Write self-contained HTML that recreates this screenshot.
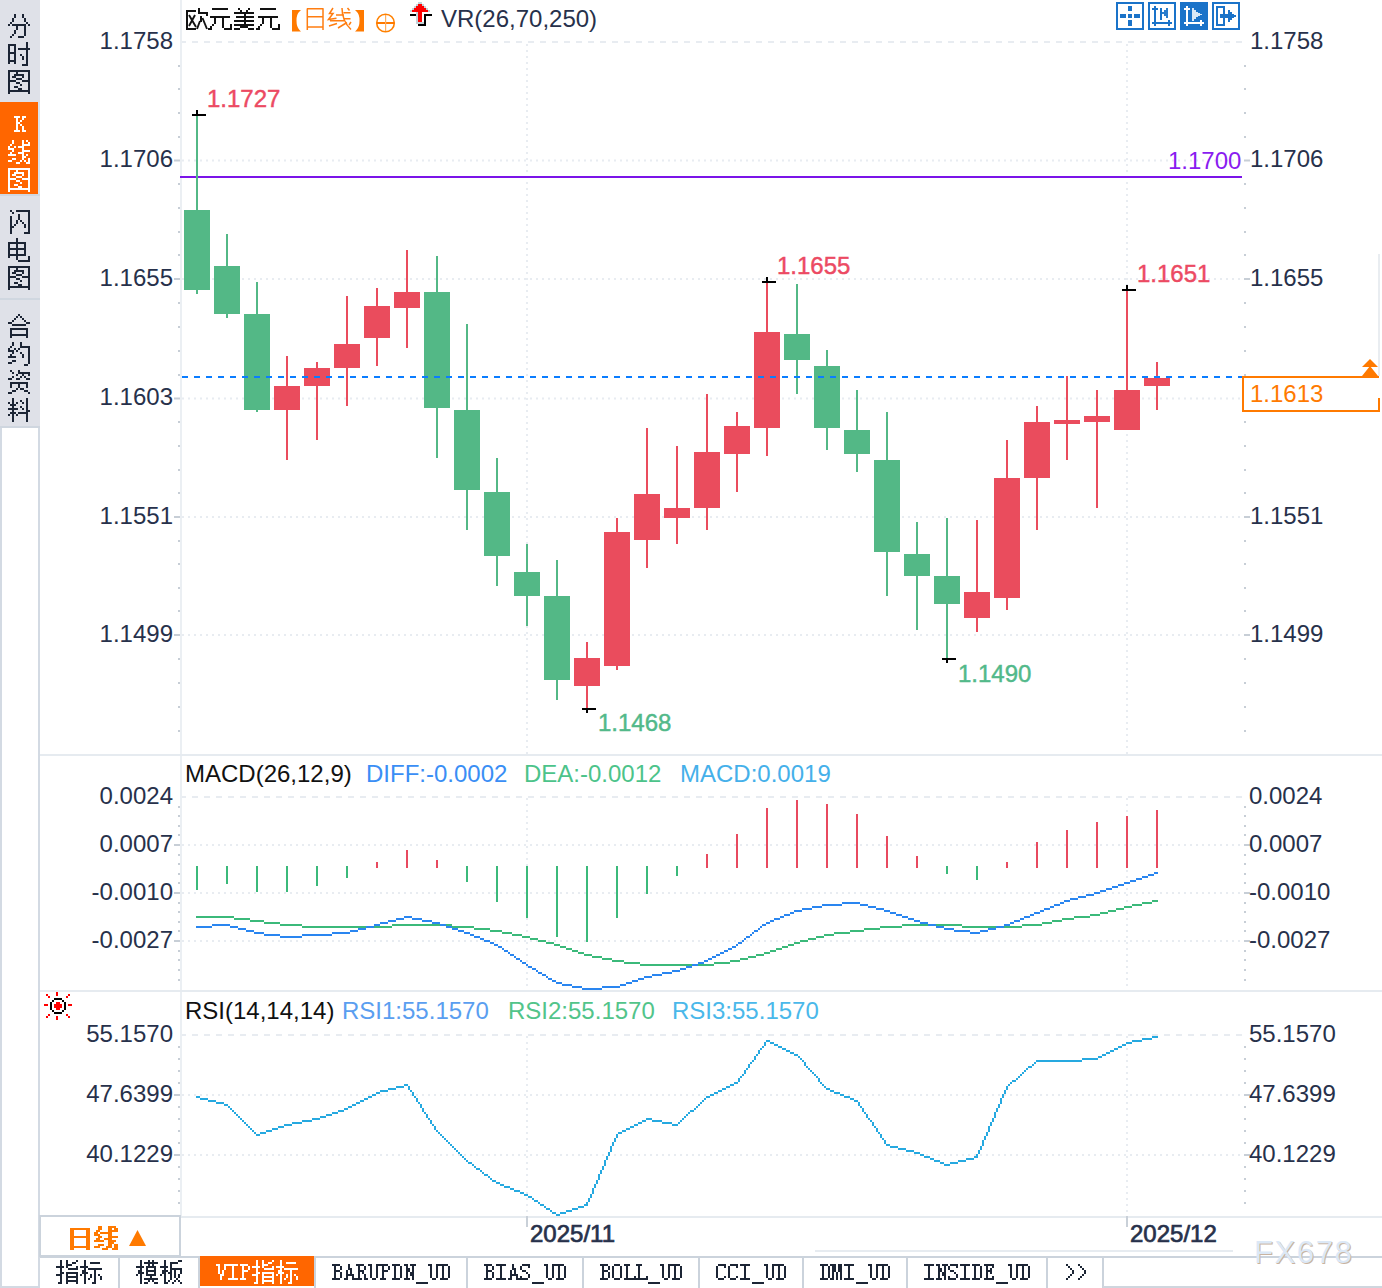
<!DOCTYPE html><html><head><meta charset="utf-8"><style>
html,body{margin:0;padding:0;background:#fff;width:1382px;height:1288px;overflow:hidden}
svg{display:block}
text{font-family:"Liberation Sans",sans-serif}
</style></head><body>
<svg width="1382" height="1288" viewBox="0 0 1382 1288">
<rect x="0" y="0" width="1382" height="1288" fill="#fff"/>
<rect x="0" y="0" width="40" height="428" fill="#dfe1e8"/>
<rect x="0" y="102" width="38" height="92" fill="#ff6600"/>
<rect x="38" y="428" width="2" height="860" fill="#d3dae3"/>
<rect x="38" y="102" width="2" height="92" fill="#d8e3ee"/>
<rect x="0" y="426" width="40" height="2" fill="#cfd6df"/>
<rect x="0" y="428" width="2" height="860" fill="#d3dae3"/>
<rect x="0" y="194" width="40" height="2" fill="#d0d7e0"/>
<rect x="0" y="298" width="40" height="2" fill="#d0d7e0"/>
<path d="M14 14h2v2h-2zM22 14h2v2h-2zM14 16h2v2h-2zM22 16h2v2h-2zM12 18h2v2h-2zM24 18h2v2h-2zM12 20h2v2h-2zM24 20h2v2h-2zM10 22h2v2h-2zM26 22h2v2h-2zM8 24h2v2h-2zM12 24h14v2h-14zM28 24h2v2h-2zM16 26h2v2h-2zM24 26h2v2h-2zM16 28h2v2h-2zM24 28h2v2h-2zM14 30h2v2h-2zM24 30h2v2h-2zM14 32h2v2h-2zM24 32h2v2h-2zM12 34h2v2h-2zM24 34h2v2h-2zM10 36h2v2h-2zM18 36h6v2h-6z" fill="#1c2535" shape-rendering="crispEdges"/>
<path d="M26 42h2v2h-2zM8 44h8v2h-8zM26 44h2v2h-2zM8 46h2v2h-2zM14 46h2v2h-2zM26 46h2v2h-2zM8 48h2v2h-2zM14 48h2v2h-2zM18 48h12v2h-12zM8 50h2v2h-2zM14 50h2v2h-2zM26 50h2v2h-2zM8 52h8v2h-8zM26 52h2v2h-2zM8 54h2v2h-2zM14 54h2v2h-2zM20 54h2v2h-2zM26 54h2v2h-2zM8 56h2v2h-2zM14 56h2v2h-2zM22 56h2v2h-2zM26 56h2v2h-2zM8 58h2v2h-2zM14 58h2v2h-2zM22 58h2v2h-2zM26 58h2v2h-2zM8 60h8v2h-8zM26 60h2v2h-2zM8 62h2v2h-2zM14 62h2v2h-2zM26 62h2v2h-2zM22 64h6v2h-6z" fill="#1c2535" shape-rendering="crispEdges"/>
<path d="M8 70h22v2h-22zM8 72h2v2h-2zM16 72h2v2h-2zM28 72h2v2h-2zM8 74h2v2h-2zM14 74h10v2h-10zM28 74h2v2h-2zM8 76h2v2h-2zM12 76h4v2h-4zM22 76h2v2h-2zM28 76h2v2h-2zM8 78h2v2h-2zM16 78h6v2h-6zM28 78h2v2h-2zM8 80h8v2h-8zM22 80h8v2h-8zM8 82h2v2h-2zM16 82h4v2h-4zM28 82h2v2h-2zM8 84h2v2h-2zM20 84h2v2h-2zM28 84h2v2h-2zM8 86h2v2h-2zM14 86h4v2h-4zM28 86h2v2h-2zM8 88h2v2h-2zM18 88h4v2h-4zM28 88h2v2h-2zM8 90h22v2h-22zM8 92h2v2h-2zM28 92h2v2h-2z" fill="#1c2535" shape-rendering="crispEdges"/>
<path d="M10 210h2v2h-2zM16 210h14v2h-14zM12 212h2v2h-2zM28 212h2v2h-2zM18 214h2v2h-2zM28 214h2v2h-2zM10 216h2v2h-2zM18 216h2v2h-2zM28 216h2v2h-2zM10 218h2v2h-2zM18 218h2v2h-2zM28 218h2v2h-2zM10 220h2v2h-2zM16 220h2v2h-2zM20 220h2v2h-2zM28 220h2v2h-2zM10 222h2v2h-2zM16 222h2v2h-2zM22 222h2v2h-2zM28 222h2v2h-2zM10 224h2v2h-2zM14 224h2v2h-2zM24 224h2v2h-2zM28 224h2v2h-2zM10 226h4v2h-4zM24 226h2v2h-2zM28 226h2v2h-2zM10 228h2v2h-2zM28 228h2v2h-2zM10 230h2v2h-2zM28 230h2v2h-2zM10 232h2v2h-2zM24 232h6v2h-6z" fill="#1c2535" shape-rendering="crispEdges"/>
<path d="M16 238h2v2h-2zM16 240h2v2h-2zM8 242h18v2h-18zM8 244h2v2h-2zM16 244h2v2h-2zM24 244h2v2h-2zM8 246h2v2h-2zM16 246h2v2h-2zM24 246h2v2h-2zM8 248h18v2h-18zM8 250h2v2h-2zM16 250h2v2h-2zM24 250h2v2h-2zM8 252h2v2h-2zM16 252h2v2h-2zM24 252h2v2h-2zM8 254h18v2h-18zM8 256h2v2h-2zM16 256h2v2h-2zM28 256h2v2h-2zM16 258h2v2h-2zM28 258h2v2h-2zM18 260h12v2h-12z" fill="#1c2535" shape-rendering="crispEdges"/>
<path d="M8 266h22v2h-22zM8 268h2v2h-2zM16 268h2v2h-2zM28 268h2v2h-2zM8 270h2v2h-2zM14 270h10v2h-10zM28 270h2v2h-2zM8 272h2v2h-2zM12 272h4v2h-4zM22 272h2v2h-2zM28 272h2v2h-2zM8 274h2v2h-2zM16 274h6v2h-6zM28 274h2v2h-2zM8 276h8v2h-8zM22 276h8v2h-8zM8 278h2v2h-2zM16 278h4v2h-4zM28 278h2v2h-2zM8 280h2v2h-2zM20 280h2v2h-2zM28 280h2v2h-2zM8 282h2v2h-2zM14 282h4v2h-4zM28 282h2v2h-2zM8 284h2v2h-2zM18 284h4v2h-4zM28 284h2v2h-2zM8 286h22v2h-22zM8 288h2v2h-2zM28 288h2v2h-2z" fill="#1c2535" shape-rendering="crispEdges"/>
<path d="M18 314h2v2h-2zM16 316h2v2h-2zM20 316h2v2h-2zM14 318h2v2h-2zM22 318h2v2h-2zM12 320h2v2h-2zM24 320h2v2h-2zM8 322h4v2h-4zM26 322h4v2h-4zM12 324h14v2h-14zM10 328h18v2h-18zM10 330h2v2h-2zM26 330h2v2h-2zM10 332h2v2h-2zM26 332h2v2h-2zM10 334h18v2h-18zM10 336h2v2h-2zM26 336h2v2h-2z" fill="#1c2535" shape-rendering="crispEdges"/>
<path d="M12 342h2v2h-2zM20 342h2v2h-2zM12 344h2v2h-2zM20 344h2v2h-2zM10 346h2v2h-2zM20 346h10v2h-10zM8 348h2v2h-2zM14 348h2v2h-2zM18 348h2v2h-2zM28 348h2v2h-2zM8 350h6v2h-6zM16 350h2v2h-2zM28 350h2v2h-2zM12 352h2v2h-2zM20 352h2v2h-2zM28 352h2v2h-2zM10 354h2v2h-2zM22 354h2v2h-2zM28 354h2v2h-2zM8 356h8v2h-8zM22 356h2v2h-2zM28 356h2v2h-2zM28 358h2v2h-2zM12 360h4v2h-4zM28 360h2v2h-2zM8 362h4v2h-4zM28 362h2v2h-2zM24 364h4v2h-4z" fill="#1c2535" shape-rendering="crispEdges"/>
<path d="M10 370h2v2h-2zM18 370h2v2h-2zM12 372h2v2h-2zM18 372h12v2h-12zM16 374h2v2h-2zM22 374h2v2h-2zM28 374h2v2h-2zM12 376h2v2h-2zM20 376h2v2h-2zM24 376h2v2h-2zM8 378h4v2h-4zM16 378h4v2h-4zM26 378h4v2h-4zM10 382h18v2h-18zM10 384h2v2h-2zM18 384h2v2h-2zM26 384h2v2h-2zM10 386h2v2h-2zM18 386h2v2h-2zM26 386h2v2h-2zM16 388h2v2h-2zM20 388h4v2h-4zM12 390h4v2h-4zM24 390h4v2h-4zM8 392h4v2h-4zM28 392h2v2h-2z" fill="#1c2535" shape-rendering="crispEdges"/>
<path d="M12 398h2v2h-2zM26 398h2v2h-2zM12 400h2v2h-2zM20 400h2v2h-2zM26 400h2v2h-2zM8 402h2v2h-2zM12 402h2v2h-2zM16 402h2v2h-2zM22 402h2v2h-2zM26 402h2v2h-2zM10 404h6v2h-6zM26 404h2v2h-2zM12 406h2v2h-2zM20 406h2v2h-2zM26 406h2v2h-2zM8 408h10v2h-10zM22 408h2v2h-2zM26 408h2v2h-2zM12 410h2v2h-2zM26 410h4v2h-4zM10 412h6v2h-6zM18 412h10v2h-10zM8 414h2v2h-2zM12 414h2v2h-2zM16 414h2v2h-2zM26 414h2v2h-2zM12 416h2v2h-2zM26 416h2v2h-2zM12 418h2v2h-2zM26 418h2v2h-2zM12 420h2v2h-2zM26 420h2v2h-2z" fill="#1c2535" shape-rendering="crispEdges"/>
<path d="M14 116h6v2h-6zM22 116h4v2h-4zM16 118h2v2h-2zM22 118h2v2h-2zM16 120h2v2h-2zM20 120h2v2h-2zM16 122h4v2h-4zM16 124h2v2h-2zM20 124h2v2h-2zM16 126h2v2h-2zM22 126h2v2h-2zM16 128h2v2h-2zM22 128h2v2h-2zM14 130h6v2h-6zM22 130h4v2h-4z" fill="#fff" shape-rendering="crispEdges"/>
<path d="M12 140h2v2h-2zM22 140h2v2h-2zM26 140h2v2h-2zM12 142h2v2h-2zM22 142h2v2h-2zM28 142h2v2h-2zM10 144h2v2h-2zM22 144h8v2h-8zM8 146h2v2h-2zM14 146h2v2h-2zM18 146h6v2h-6zM8 148h6v2h-6zM22 148h2v2h-2zM12 150h2v2h-2zM22 150h8v2h-8zM10 152h2v2h-2zM18 152h6v2h-6zM8 154h8v2h-8zM22 154h2v2h-2zM26 154h2v2h-2zM22 156h4v2h-4zM12 158h4v2h-4zM22 158h2v2h-2zM28 158h2v2h-2zM8 160h4v2h-4zM20 160h2v2h-2zM24 160h2v2h-2zM28 160h2v2h-2zM16 162h4v2h-4zM26 162h4v2h-4z" fill="#fff" shape-rendering="crispEdges"/>
<path d="M8 168h22v2h-22zM8 170h2v2h-2zM16 170h2v2h-2zM28 170h2v2h-2zM8 172h2v2h-2zM14 172h10v2h-10zM28 172h2v2h-2zM8 174h2v2h-2zM12 174h4v2h-4zM22 174h2v2h-2zM28 174h2v2h-2zM8 176h2v2h-2zM16 176h6v2h-6zM28 176h2v2h-2zM8 178h8v2h-8zM22 178h8v2h-8zM8 180h2v2h-2zM16 180h4v2h-4zM28 180h2v2h-2zM8 182h2v2h-2zM20 182h2v2h-2zM28 182h2v2h-2zM8 184h2v2h-2zM14 184h4v2h-4zM28 184h2v2h-2zM8 186h2v2h-2zM18 186h4v2h-4zM28 186h2v2h-2zM8 188h22v2h-22zM8 190h2v2h-2zM28 190h2v2h-2z" fill="#fff" shape-rendering="crispEdges"/>
<rect x="180" y="0" width="2" height="1216" fill="#ebeff3"/>
<rect x="40" y="754" width="1342" height="2" fill="#e6ebf0"/>
<rect x="40" y="990" width="1342" height="2" fill="#e6ebf0"/>
<rect x="40" y="1216" width="1342" height="2" fill="#e6ebf0"/>
<line x1="182" y1="42" x2="1242" y2="42" stroke="#e8ecf1" stroke-width="2" stroke-dasharray="6 6" stroke-dashoffset="2"/>
<line x1="182" y1="160.5" x2="1242" y2="160.5" stroke="#e8ecf1" stroke-width="2" stroke-dasharray="2 4"/>
<line x1="182" y1="279" x2="1242" y2="279" stroke="#e8ecf1" stroke-width="2" stroke-dasharray="2 4"/>
<line x1="182" y1="398.5" x2="1242" y2="398.5" stroke="#e8ecf1" stroke-width="2" stroke-dasharray="2 4"/>
<line x1="182" y1="517" x2="1242" y2="517" stroke="#e8ecf1" stroke-width="2" stroke-dasharray="2 4"/>
<line x1="182" y1="635" x2="1242" y2="635" stroke="#e8ecf1" stroke-width="2" stroke-dasharray="2 4"/>
<line x1="182" y1="797" x2="1242" y2="797" stroke="#e8ecf1" stroke-width="2" stroke-dasharray="6 6" stroke-dashoffset="2"/>
<line x1="182" y1="845" x2="1242" y2="845" stroke="#e8ecf1" stroke-width="2" stroke-dasharray="2 4"/>
<line x1="182" y1="893" x2="1242" y2="893" stroke="#e8ecf1" stroke-width="2" stroke-dasharray="2 4"/>
<line x1="182" y1="941" x2="1242" y2="941" stroke="#e8ecf1" stroke-width="2" stroke-dasharray="2 4"/>
<line x1="182" y1="1035" x2="1242" y2="1035" stroke="#e8ecf1" stroke-width="2" stroke-dasharray="6 6" stroke-dashoffset="2"/>
<line x1="182" y1="1095" x2="1242" y2="1095" stroke="#e8ecf1" stroke-width="2" stroke-dasharray="2 4"/>
<line x1="182" y1="1155" x2="1242" y2="1155" stroke="#e8ecf1" stroke-width="2" stroke-dasharray="2 4"/>
<line x1="527" y1="44" x2="527" y2="754" stroke="#e8ecf1" stroke-width="2" stroke-dasharray="2 4"/>
<line x1="527" y1="798" x2="527" y2="990" stroke="#e8ecf1" stroke-width="2" stroke-dasharray="2 4"/>
<line x1="527" y1="1036" x2="527" y2="1216" stroke="#e8ecf1" stroke-width="2" stroke-dasharray="2 4"/>
<rect x="526" y="1216" width="2" height="11" fill="#c9d0d8"/>
<line x1="1127" y1="44" x2="1127" y2="754" stroke="#e8ecf1" stroke-width="2" stroke-dasharray="2 4"/>
<line x1="1127" y1="798" x2="1127" y2="990" stroke="#e8ecf1" stroke-width="2" stroke-dasharray="2 4"/>
<line x1="1127" y1="1036" x2="1127" y2="1216" stroke="#e8ecf1" stroke-width="2" stroke-dasharray="2 4"/>
<rect x="1126" y="1216" width="2" height="11" fill="#c9d0d8"/>
<rect x="174" y="159.5" width="6" height="2" fill="#c7ced6"/>
<rect x="1244" y="159.5" width="6" height="2" fill="#c7ced6"/>
<rect x="174" y="278" width="6" height="2" fill="#c7ced6"/>
<rect x="1244" y="278" width="6" height="2" fill="#c7ced6"/>
<rect x="174" y="397.5" width="6" height="2" fill="#c7ced6"/>
<rect x="1244" y="397.5" width="6" height="2" fill="#c7ced6"/>
<rect x="174" y="516" width="6" height="2" fill="#c7ced6"/>
<rect x="1244" y="516" width="6" height="2" fill="#c7ced6"/>
<rect x="174" y="634" width="6" height="2" fill="#c7ced6"/>
<rect x="1244" y="634" width="6" height="2" fill="#c7ced6"/>
<rect x="178" y="65" width="2" height="2" fill="#c7ced6"/>
<rect x="1244" y="65" width="2" height="2" fill="#c7ced6"/>
<rect x="178" y="88" width="2" height="2" fill="#c7ced6"/>
<rect x="1244" y="88" width="2" height="2" fill="#c7ced6"/>
<rect x="178" y="112" width="2" height="2" fill="#c7ced6"/>
<rect x="1244" y="112" width="2" height="2" fill="#c7ced6"/>
<rect x="178" y="136" width="2" height="2" fill="#c7ced6"/>
<rect x="1244" y="136" width="2" height="2" fill="#c7ced6"/>
<rect x="178" y="183" width="2" height="2" fill="#c7ced6"/>
<rect x="1244" y="183" width="2" height="2" fill="#c7ced6"/>
<rect x="178" y="207" width="2" height="2" fill="#c7ced6"/>
<rect x="1244" y="207" width="2" height="2" fill="#c7ced6"/>
<rect x="178" y="231" width="2" height="2" fill="#c7ced6"/>
<rect x="1244" y="231" width="2" height="2" fill="#c7ced6"/>
<rect x="178" y="254" width="2" height="2" fill="#c7ced6"/>
<rect x="1244" y="254" width="2" height="2" fill="#c7ced6"/>
<rect x="178" y="302" width="2" height="2" fill="#c7ced6"/>
<rect x="1244" y="302" width="2" height="2" fill="#c7ced6"/>
<rect x="178" y="326" width="2" height="2" fill="#c7ced6"/>
<rect x="1244" y="326" width="2" height="2" fill="#c7ced6"/>
<rect x="178" y="350" width="2" height="2" fill="#c7ced6"/>
<rect x="1244" y="350" width="2" height="2" fill="#c7ced6"/>
<rect x="178" y="374" width="2" height="2" fill="#c7ced6"/>
<rect x="1244" y="374" width="2" height="2" fill="#c7ced6"/>
<rect x="178" y="421" width="2" height="2" fill="#c7ced6"/>
<rect x="1244" y="421" width="2" height="2" fill="#c7ced6"/>
<rect x="178" y="445" width="2" height="2" fill="#c7ced6"/>
<rect x="1244" y="445" width="2" height="2" fill="#c7ced6"/>
<rect x="178" y="469" width="2" height="2" fill="#c7ced6"/>
<rect x="1244" y="469" width="2" height="2" fill="#c7ced6"/>
<rect x="178" y="492" width="2" height="2" fill="#c7ced6"/>
<rect x="1244" y="492" width="2" height="2" fill="#c7ced6"/>
<rect x="178" y="540" width="2" height="2" fill="#c7ced6"/>
<rect x="1244" y="540" width="2" height="2" fill="#c7ced6"/>
<rect x="178" y="563" width="2" height="2" fill="#c7ced6"/>
<rect x="1244" y="563" width="2" height="2" fill="#c7ced6"/>
<rect x="178" y="587" width="2" height="2" fill="#c7ced6"/>
<rect x="1244" y="587" width="2" height="2" fill="#c7ced6"/>
<rect x="178" y="610" width="2" height="2" fill="#c7ced6"/>
<rect x="1244" y="610" width="2" height="2" fill="#c7ced6"/>
<rect x="178" y="658" width="2" height="2" fill="#c7ced6"/>
<rect x="1244" y="658" width="2" height="2" fill="#c7ced6"/>
<rect x="178" y="682" width="2" height="2" fill="#c7ced6"/>
<rect x="1244" y="682" width="2" height="2" fill="#c7ced6"/>
<rect x="178" y="706" width="2" height="2" fill="#c7ced6"/>
<rect x="1244" y="706" width="2" height="2" fill="#c7ced6"/>
<rect x="178" y="730" width="2" height="2" fill="#c7ced6"/>
<rect x="1244" y="730" width="2" height="2" fill="#c7ced6"/>
<rect x="174" y="844" width="6" height="2" fill="#c7ced6"/>
<rect x="1244" y="844" width="6" height="2" fill="#c7ced6"/>
<rect x="174" y="892" width="6" height="2" fill="#c7ced6"/>
<rect x="1244" y="892" width="6" height="2" fill="#c7ced6"/>
<rect x="174" y="940" width="6" height="2" fill="#c7ced6"/>
<rect x="1244" y="940" width="6" height="2" fill="#c7ced6"/>
<rect x="178" y="806" width="2" height="2" fill="#c7ced6"/>
<rect x="1244" y="806" width="2" height="2" fill="#c7ced6"/>
<rect x="178" y="815" width="2" height="2" fill="#c7ced6"/>
<rect x="1244" y="815" width="2" height="2" fill="#c7ced6"/>
<rect x="178" y="825" width="2" height="2" fill="#c7ced6"/>
<rect x="1244" y="825" width="2" height="2" fill="#c7ced6"/>
<rect x="178" y="834" width="2" height="2" fill="#c7ced6"/>
<rect x="1244" y="834" width="2" height="2" fill="#c7ced6"/>
<rect x="178" y="854" width="2" height="2" fill="#c7ced6"/>
<rect x="1244" y="854" width="2" height="2" fill="#c7ced6"/>
<rect x="178" y="863" width="2" height="2" fill="#c7ced6"/>
<rect x="1244" y="863" width="2" height="2" fill="#c7ced6"/>
<rect x="178" y="873" width="2" height="2" fill="#c7ced6"/>
<rect x="1244" y="873" width="2" height="2" fill="#c7ced6"/>
<rect x="178" y="882" width="2" height="2" fill="#c7ced6"/>
<rect x="1244" y="882" width="2" height="2" fill="#c7ced6"/>
<rect x="178" y="902" width="2" height="2" fill="#c7ced6"/>
<rect x="1244" y="902" width="2" height="2" fill="#c7ced6"/>
<rect x="178" y="911" width="2" height="2" fill="#c7ced6"/>
<rect x="1244" y="911" width="2" height="2" fill="#c7ced6"/>
<rect x="178" y="921" width="2" height="2" fill="#c7ced6"/>
<rect x="1244" y="921" width="2" height="2" fill="#c7ced6"/>
<rect x="178" y="930" width="2" height="2" fill="#c7ced6"/>
<rect x="1244" y="930" width="2" height="2" fill="#c7ced6"/>
<rect x="178" y="950" width="2" height="2" fill="#c7ced6"/>
<rect x="1244" y="950" width="2" height="2" fill="#c7ced6"/>
<rect x="178" y="959" width="2" height="2" fill="#c7ced6"/>
<rect x="1244" y="959" width="2" height="2" fill="#c7ced6"/>
<rect x="178" y="969" width="2" height="2" fill="#c7ced6"/>
<rect x="1244" y="969" width="2" height="2" fill="#c7ced6"/>
<rect x="178" y="979" width="2" height="2" fill="#c7ced6"/>
<rect x="1244" y="979" width="2" height="2" fill="#c7ced6"/>
<rect x="174" y="1094" width="6" height="2" fill="#c7ced6"/>
<rect x="1244" y="1094" width="6" height="2" fill="#c7ced6"/>
<rect x="174" y="1154" width="6" height="2" fill="#c7ced6"/>
<rect x="1244" y="1154" width="6" height="2" fill="#c7ced6"/>
<rect x="178" y="1046" width="2" height="2" fill="#c7ced6"/>
<rect x="1244" y="1046" width="2" height="2" fill="#c7ced6"/>
<rect x="178" y="1058" width="2" height="2" fill="#c7ced6"/>
<rect x="1244" y="1058" width="2" height="2" fill="#c7ced6"/>
<rect x="178" y="1070" width="2" height="2" fill="#c7ced6"/>
<rect x="1244" y="1070" width="2" height="2" fill="#c7ced6"/>
<rect x="178" y="1082" width="2" height="2" fill="#c7ced6"/>
<rect x="1244" y="1082" width="2" height="2" fill="#c7ced6"/>
<rect x="178" y="1106" width="2" height="2" fill="#c7ced6"/>
<rect x="1244" y="1106" width="2" height="2" fill="#c7ced6"/>
<rect x="178" y="1118" width="2" height="2" fill="#c7ced6"/>
<rect x="1244" y="1118" width="2" height="2" fill="#c7ced6"/>
<rect x="178" y="1130" width="2" height="2" fill="#c7ced6"/>
<rect x="1244" y="1130" width="2" height="2" fill="#c7ced6"/>
<rect x="178" y="1142" width="2" height="2" fill="#c7ced6"/>
<rect x="1244" y="1142" width="2" height="2" fill="#c7ced6"/>
<rect x="178" y="1166" width="2" height="2" fill="#c7ced6"/>
<rect x="1244" y="1166" width="2" height="2" fill="#c7ced6"/>
<rect x="178" y="1178" width="2" height="2" fill="#c7ced6"/>
<rect x="1244" y="1178" width="2" height="2" fill="#c7ced6"/>
<rect x="178" y="1190" width="2" height="2" fill="#c7ced6"/>
<rect x="1244" y="1190" width="2" height="2" fill="#c7ced6"/>
<rect x="178" y="1202" width="2" height="2" fill="#c7ced6"/>
<rect x="1244" y="1202" width="2" height="2" fill="#c7ced6"/>
<text x="173" y="48.5" font-size="24" fill="#27314b" text-anchor="end" font-weight="normal">1.1758</text>
<text x="1250" y="48.5" font-size="24" fill="#27314b" text-anchor="start" font-weight="normal">1.1758</text>
<text x="173" y="167.0" font-size="24" fill="#27314b" text-anchor="end" font-weight="normal">1.1706</text>
<text x="1250" y="167.0" font-size="24" fill="#27314b" text-anchor="start" font-weight="normal">1.1706</text>
<text x="173" y="285.5" font-size="24" fill="#27314b" text-anchor="end" font-weight="normal">1.1655</text>
<text x="1250" y="285.5" font-size="24" fill="#27314b" text-anchor="start" font-weight="normal">1.1655</text>
<text x="173" y="405.0" font-size="24" fill="#27314b" text-anchor="end" font-weight="normal">1.1603</text>
<text x="1250" y="405.0" font-size="24" fill="#27314b" text-anchor="start" font-weight="normal">1.1603</text>
<text x="173" y="523.5" font-size="24" fill="#27314b" text-anchor="end" font-weight="normal">1.1551</text>
<text x="1250" y="523.5" font-size="24" fill="#27314b" text-anchor="start" font-weight="normal">1.1551</text>
<text x="173" y="641.5" font-size="24" fill="#27314b" text-anchor="end" font-weight="normal">1.1499</text>
<text x="1250" y="641.5" font-size="24" fill="#27314b" text-anchor="start" font-weight="normal">1.1499</text>
<text x="173" y="804" font-size="24" fill="#27314b" text-anchor="end" font-weight="normal">0.0024</text>
<text x="1249" y="804" font-size="24" fill="#27314b" text-anchor="start" font-weight="normal">0.0024</text>
<text x="173" y="852" font-size="24" fill="#27314b" text-anchor="end" font-weight="normal">0.0007</text>
<text x="1249" y="852" font-size="24" fill="#27314b" text-anchor="start" font-weight="normal">0.0007</text>
<text x="173" y="900" font-size="24" fill="#27314b" text-anchor="end" font-weight="normal">-0.0010</text>
<text x="1249" y="900" font-size="24" fill="#27314b" text-anchor="start" font-weight="normal">-0.0010</text>
<text x="173" y="948" font-size="24" fill="#27314b" text-anchor="end" font-weight="normal">-0.0027</text>
<text x="1249" y="948" font-size="24" fill="#27314b" text-anchor="start" font-weight="normal">-0.0027</text>
<text x="173" y="1042" font-size="24" fill="#27314b" text-anchor="end" font-weight="normal">55.1570</text>
<text x="1249" y="1042" font-size="24" fill="#27314b" text-anchor="start" font-weight="normal">55.1570</text>
<text x="173" y="1102" font-size="24" fill="#27314b" text-anchor="end" font-weight="normal">47.6399</text>
<text x="1249" y="1102" font-size="24" fill="#27314b" text-anchor="start" font-weight="normal">47.6399</text>
<text x="173" y="1162" font-size="24" fill="#27314b" text-anchor="end" font-weight="normal">40.1229</text>
<text x="1249" y="1162" font-size="24" fill="#27314b" text-anchor="start" font-weight="normal">40.1229</text>
<rect x="180" y="176" width="1062" height="2" fill="#7b14e8"/>
<rect x="196" y="115" width="2" height="179" fill="#53b886"/>
<rect x="184" y="210" width="26" height="80" fill="#53b886"/>
<rect x="226" y="234" width="2" height="84" fill="#53b886"/>
<rect x="214" y="266" width="26" height="48" fill="#53b886"/>
<rect x="256" y="282" width="2" height="130" fill="#53b886"/>
<rect x="244" y="314" width="26" height="96" fill="#53b886"/>
<rect x="286" y="356" width="2" height="104" fill="#ea4c5d"/>
<rect x="274" y="386" width="26" height="24" fill="#ea4c5d"/>
<rect x="316" y="362" width="2" height="78" fill="#ea4c5d"/>
<rect x="304" y="368" width="26" height="18" fill="#ea4c5d"/>
<rect x="346" y="296" width="2" height="110" fill="#ea4c5d"/>
<rect x="334" y="344" width="26" height="24" fill="#ea4c5d"/>
<rect x="376" y="288" width="2" height="78" fill="#ea4c5d"/>
<rect x="364" y="306" width="26" height="32" fill="#ea4c5d"/>
<rect x="406" y="250" width="2" height="98" fill="#ea4c5d"/>
<rect x="394" y="292" width="26" height="16" fill="#ea4c5d"/>
<rect x="436" y="256" width="2" height="202" fill="#53b886"/>
<rect x="424" y="292" width="26" height="116" fill="#53b886"/>
<rect x="466" y="324" width="2" height="206" fill="#53b886"/>
<rect x="454" y="410" width="26" height="80" fill="#53b886"/>
<rect x="496" y="458" width="2" height="128" fill="#53b886"/>
<rect x="484" y="492" width="26" height="64" fill="#53b886"/>
<rect x="526" y="544" width="2" height="82" fill="#53b886"/>
<rect x="514" y="572" width="26" height="24" fill="#53b886"/>
<rect x="556" y="560" width="2" height="140" fill="#53b886"/>
<rect x="544" y="596" width="26" height="84" fill="#53b886"/>
<rect x="586" y="642" width="2" height="67" fill="#ea4c5d"/>
<rect x="574" y="658" width="26" height="28" fill="#ea4c5d"/>
<rect x="616" y="518" width="2" height="152" fill="#ea4c5d"/>
<rect x="604" y="532" width="26" height="134" fill="#ea4c5d"/>
<rect x="646" y="428" width="2" height="140" fill="#ea4c5d"/>
<rect x="634" y="494" width="26" height="46" fill="#ea4c5d"/>
<rect x="676" y="446" width="2" height="98" fill="#ea4c5d"/>
<rect x="664" y="508" width="26" height="10" fill="#ea4c5d"/>
<rect x="706" y="394" width="2" height="136" fill="#ea4c5d"/>
<rect x="694" y="452" width="26" height="56" fill="#ea4c5d"/>
<rect x="736" y="412" width="2" height="80" fill="#ea4c5d"/>
<rect x="724" y="426" width="26" height="28" fill="#ea4c5d"/>
<rect x="766" y="281" width="2" height="175" fill="#ea4c5d"/>
<rect x="754" y="332" width="26" height="96" fill="#ea4c5d"/>
<rect x="796" y="284" width="2" height="110" fill="#53b886"/>
<rect x="784" y="334" width="26" height="26" fill="#53b886"/>
<rect x="826" y="350" width="2" height="100" fill="#53b886"/>
<rect x="814" y="366" width="26" height="62" fill="#53b886"/>
<rect x="856" y="390" width="2" height="82" fill="#53b886"/>
<rect x="844" y="430" width="26" height="24" fill="#53b886"/>
<rect x="886" y="412" width="2" height="184" fill="#53b886"/>
<rect x="874" y="460" width="26" height="92" fill="#53b886"/>
<rect x="916" y="522" width="2" height="108" fill="#53b886"/>
<rect x="904" y="554" width="26" height="22" fill="#53b886"/>
<rect x="946" y="518" width="2" height="141" fill="#53b886"/>
<rect x="934" y="576" width="26" height="28" fill="#53b886"/>
<rect x="976" y="520" width="2" height="112" fill="#ea4c5d"/>
<rect x="964" y="592" width="26" height="26" fill="#ea4c5d"/>
<rect x="1006" y="440" width="2" height="170" fill="#ea4c5d"/>
<rect x="994" y="478" width="26" height="120" fill="#ea4c5d"/>
<rect x="1036" y="406" width="2" height="124" fill="#ea4c5d"/>
<rect x="1024" y="422" width="26" height="56" fill="#ea4c5d"/>
<rect x="1066" y="376" width="2" height="84" fill="#ea4c5d"/>
<rect x="1054" y="420" width="26" height="4" fill="#ea4c5d"/>
<rect x="1096" y="390" width="2" height="118" fill="#ea4c5d"/>
<rect x="1084" y="416" width="26" height="6" fill="#ea4c5d"/>
<rect x="1126" y="289" width="2" height="141" fill="#ea4c5d"/>
<rect x="1114" y="390" width="26" height="40" fill="#ea4c5d"/>
<rect x="1156" y="362" width="2" height="48" fill="#ea4c5d"/>
<rect x="1144" y="378" width="26" height="8" fill="#ea4c5d"/>
<line x1="182" y1="377" x2="1242" y2="377" stroke="#0b7dff" stroke-width="2" stroke-dasharray="6 6"/>
<rect x="192" y="114" width="14" height="2" fill="#000"/>
<rect x="196" y="110" width="2" height="6" fill="#000"/>
<rect x="762" y="281" width="14" height="2" fill="#000"/>
<rect x="766" y="277" width="2" height="6" fill="#000"/>
<rect x="1122" y="289" width="14" height="2" fill="#000"/>
<rect x="1126" y="285" width="2" height="6" fill="#000"/>
<rect x="582" y="708" width="14" height="2" fill="#000"/>
<rect x="586" y="708" width="2" height="5" fill="#000"/>
<rect x="942" y="658" width="14" height="2" fill="#000"/>
<rect x="946" y="658" width="2" height="5" fill="#000"/>
<text x="207" y="107" font-size="24" fill="#ec4a63" text-anchor="start" font-weight="normal" stroke="#ec4a63" stroke-width="0.45">1.1727</text>
<text x="777" y="274" font-size="24" fill="#ec4a63" text-anchor="start" font-weight="normal" stroke="#ec4a63" stroke-width="0.45">1.1655</text>
<text x="1137" y="282" font-size="24" fill="#ec4a63" text-anchor="start" font-weight="normal" stroke="#ec4a63" stroke-width="0.45">1.1651</text>
<text x="598" y="731" font-size="24" fill="#52b98a" text-anchor="start" font-weight="normal" stroke="#52b98a" stroke-width="0.45">1.1468</text>
<text x="958" y="682" font-size="24" fill="#52b98a" text-anchor="start" font-weight="normal" stroke="#52b98a" stroke-width="0.45">1.1490</text>
<text x="1168" y="169" font-size="24" fill="#8a1cf0" text-anchor="start" font-weight="normal">1.1700</text>
<rect x="1244" y="378" width="134" height="32" fill="#fff"/>
<path d="M1242 376h137v2h-137zM1242 410h137v2h-137zM1242 376h2v36h-2zM1378 398h2v14h-2z" fill="#ff7a00"/>
<text x="1250" y="402" font-size="24" fill="#ff7a00" text-anchor="start" font-weight="normal">1.1613</text>
<path d="M1370 359 L1378 367 L1362 367 Z M1370 366 L1378 376 L1362 376 Z" fill="#ff7a00"/>
<rect x="196" y="866" width="2" height="24" fill="#3bb97a"/>
<rect x="226" y="866" width="2" height="18" fill="#3bb97a"/>
<rect x="256" y="866" width="2" height="26" fill="#3bb97a"/>
<rect x="286" y="866" width="2" height="26" fill="#3bb97a"/>
<rect x="316" y="866" width="2" height="20" fill="#3bb97a"/>
<rect x="346" y="866" width="2" height="12" fill="#3bb97a"/>
<rect x="376" y="862" width="2" height="6" fill="#e84a5f"/>
<rect x="406" y="850" width="2" height="18" fill="#e84a5f"/>
<rect x="436" y="860" width="2" height="8" fill="#e84a5f"/>
<rect x="466" y="866" width="2" height="16" fill="#3bb97a"/>
<rect x="496" y="866" width="2" height="36" fill="#3bb97a"/>
<rect x="526" y="866" width="2" height="52" fill="#3bb97a"/>
<rect x="556" y="866" width="2" height="71" fill="#3bb97a"/>
<rect x="586" y="866" width="2" height="76" fill="#3bb97a"/>
<rect x="616" y="866" width="2" height="52" fill="#3bb97a"/>
<rect x="646" y="866" width="2" height="28" fill="#3bb97a"/>
<rect x="676" y="866" width="2" height="10" fill="#3bb97a"/>
<rect x="706" y="854" width="2" height="14" fill="#e84a5f"/>
<rect x="736" y="834" width="2" height="34" fill="#e84a5f"/>
<rect x="766" y="808" width="2" height="60" fill="#e84a5f"/>
<rect x="796" y="800" width="2" height="68" fill="#e84a5f"/>
<rect x="826" y="804" width="2" height="64" fill="#e84a5f"/>
<rect x="856" y="814" width="2" height="54" fill="#e84a5f"/>
<rect x="886" y="836" width="2" height="32" fill="#e84a5f"/>
<rect x="916" y="856" width="2" height="12" fill="#e84a5f"/>
<rect x="946" y="866" width="2" height="8" fill="#3bb97a"/>
<rect x="976" y="866" width="2" height="14" fill="#3bb97a"/>
<rect x="1006" y="862" width="2" height="6" fill="#e84a5f"/>
<rect x="1036" y="842" width="2" height="26" fill="#e84a5f"/>
<rect x="1066" y="830" width="2" height="38" fill="#e84a5f"/>
<rect x="1096" y="822" width="2" height="46" fill="#e84a5f"/>
<rect x="1126" y="816" width="2" height="52" fill="#e84a5f"/>
<rect x="1156" y="810" width="2" height="58" fill="#e84a5f"/>
<path d="M512 934h10v2h-10zM824 934h10v2h-10zM1116 908h8v2h-8zM1142 902h10v2h-10zM302 926h90v2h-90zM452 926h22v2h-22zM880 926h22v2h-22zM962 926h60v2h-60zM572 950h6v2h-6zM770 950h6v2h-6zM280 924h22v2h-22zM392 924h60v2h-60zM902 924h60v2h-60zM1022 924h20v2h-20zM584 954h8v2h-8zM756 954h8v2h-8zM602 958h10v2h-10zM740 958h8v2h-8zM624 962h16v2h-16zM714 962h16v2h-16zM490 930h12v2h-12zM850 930h14v2h-14zM538 940h8v2h-8zM800 940h8v2h-8zM1090 914h10v2h-10zM474 928h16v2h-16zM864 928h16v2h-16zM196 916h38v2h-38zM1074 916h16v2h-16zM640 964h74v2h-74zM578 952h6v2h-6zM764 952h6v2h-6zM522 936h8v2h-8zM816 936h8v2h-8zM250 920h14v2h-14zM1052 920h10v2h-10zM612 960h12v2h-12zM730 960h10v2h-10zM234 918h16v2h-16zM1062 918h12v2h-12zM1132 904h10v2h-10zM530 938h8v2h-8zM808 938h8v2h-8zM264 922h16v2h-16zM1042 922h10v2h-10zM502 932h10v2h-10zM834 932h16v2h-16zM1108 910h8v2h-8zM1124 906h8v2h-8zM560 946h6v2h-6zM782 946h6v2h-6zM546 942h8v2h-8zM794 942h6v2h-6zM1100 912h8v2h-8zM592 956h10v2h-10zM748 956h8v2h-8zM554 944h6v2h-6zM788 944h6v2h-6zM1152 900h6v2h-6zM566 948h6v2h-6zM776 948h6v2h-6z" fill="#3bb97a" shape-rendering="crispEdges"/>
<path d="M822 904h20v2h-20zM860 904h8v2h-8zM1054 904h6v2h-6zM264 934h16v2h-16zM302 934h30v2h-30zM470 934h4v2h-4zM750 934h2v2h-2zM538 972h4v2h-4zM662 972h10v2h-10zM280 936h22v2h-22zM474 936h6v2h-6zM746 936h4v2h-4zM504 950h4v2h-4zM724 950h4v2h-4zM380 922h8v2h-8zM432 922h8v2h-8zM766 922h4v2h-4zM920 922h8v2h-8zM1010 922h4v2h-4zM520 960h2v2h-2zM704 960h4v2h-4zM196 926h16v2h-16zM230 926h8v2h-8zM366 926h8v2h-8zM446 926h6v2h-6zM760 926h2v2h-2zM936 926h8v2h-8zM996 926h8v2h-8zM526 964h2v2h-2zM692 964h6v2h-6zM212 924h18v2h-18zM374 924h6v2h-6zM440 924h6v2h-6zM762 924h4v2h-4zM928 924h8v2h-8zM1004 924h6v2h-6zM1112 886h6v2h-6zM404 916h8v2h-8zM780 916h4v2h-4zM902 916h6v2h-6zM1024 916h6v2h-6zM238 928h8v2h-8zM358 928h8v2h-8zM452 928h6v2h-6zM758 928h2v2h-2zM944 928h10v2h-10zM988 928h8v2h-8zM784 914h6v2h-6zM896 914h6v2h-6zM1030 914h4v2h-4zM548 978h4v2h-4zM638 978h6v2h-6zM388 920h8v2h-8zM422 920h10v2h-10zM770 920h4v2h-4zM914 920h6v2h-6zM1014 920h6v2h-6zM812 906h10v2h-10zM868 906h8v2h-8zM1050 906h4v2h-4zM582 988h20v2h-20zM536 970h2v2h-2zM672 970h8v2h-8zM396 918h8v2h-8zM412 918h10v2h-10zM774 918h6v2h-6zM908 918h6v2h-6zM1020 918h4v2h-4zM528 966h4v2h-4zM686 966h6v2h-6zM572 986h10v2h-10zM602 986h18v2h-18zM802 908h10v2h-10zM876 908h8v2h-8zM1044 908h6v2h-6zM1136 878h6v2h-6zM516 958h4v2h-4zM708 958h4v2h-4zM794 910h8v2h-8zM884 910h6v2h-6zM1040 910h4v2h-4zM790 912h4v2h-4zM890 912h6v2h-6zM1034 912h6v2h-6zM1086 894h8v2h-8zM522 962h4v2h-4zM698 962h6v2h-6zM1148 874h6v2h-6zM246 930h8v2h-8zM350 930h8v2h-8zM458 930h6v2h-6zM754 930h4v2h-4zM954 930h16v2h-16zM980 930h8v2h-8zM502 948h2v2h-2zM728 948h4v2h-4zM1064 900h6v2h-6zM254 932h10v2h-10zM332 932h18v2h-18zM464 932h6v2h-6zM752 932h2v2h-2zM970 932h10v2h-10zM510 954h4v2h-4zM716 954h4v2h-4zM556 982h6v2h-6zM626 982h6v2h-6zM490 942h4v2h-4zM738 942h4v2h-4zM842 902h18v2h-18zM1060 902h4v2h-4zM1124 882h6v2h-6zM1078 896h8v2h-8zM542 974h4v2h-4zM652 974h10v2h-10zM484 940h6v2h-6zM742 940h2v2h-2zM1094 892h6v2h-6zM508 952h2v2h-2zM720 952h4v2h-4zM562 984h10v2h-10zM620 984h6v2h-6zM514 956h2v2h-2zM712 956h4v2h-4zM480 938h4v2h-4zM744 938h2v2h-2zM1118 884h6v2h-6zM1070 898h8v2h-8zM532 968h4v2h-4zM680 968h6v2h-6zM498 946h4v2h-4zM732 946h4v2h-4zM552 980h4v2h-4zM632 980h6v2h-6zM546 976h2v2h-2zM644 976h8v2h-8zM1142 876h6v2h-6zM494 944h4v2h-4zM736 944h2v2h-2zM1106 888h6v2h-6zM1154 872h4v2h-4zM1130 880h6v2h-6zM1100 890h6v2h-6z" fill="#2a86f0" shape-rendering="crispEdges"/>
<path d="M734 1082h4v2h-4zM820 1082h2v2h-2zM1010 1082h2v2h-2zM468 1162h4v2h-4zM604 1162h2v2h-2zM940 1162h4v2h-4zM950 1162h8v2h-8zM248 1126h2v2h-2zM278 1126h6v2h-6zM434 1126h2v2h-2zM630 1126h4v2h-4zM874 1126h2v2h-2zM988 1126h2v2h-2zM456 1150h2v2h-2zM610 1150h2v2h-2zM906 1150h8v2h-8zM978 1150h2v2h-2zM240 1118h2v2h-2zM312 1118h8v2h-8zM428 1118h2v2h-2zM646 1118h6v2h-6zM682 1118h2v2h-2zM868 1118h2v2h-2zM992 1118h2v2h-2zM246 1124h2v2h-2zM284 1124h8v2h-8zM432 1124h2v2h-2zM634 1124h4v2h-4zM672 1124h6v2h-6zM872 1124h2v2h-2zM990 1124h2v2h-2zM234 1112h2v2h-2zM332 1112h6v2h-6zM424 1112h2v2h-2zM688 1112h2v2h-2zM864 1112h2v2h-2zM994 1112h2v2h-2zM740 1076h2v2h-2zM816 1076h2v2h-2zM1018 1076h2v2h-2zM242 1120h2v2h-2zM302 1120h10v2h-10zM430 1120h2v2h-2zM642 1120h4v2h-4zM652 1120h10v2h-10zM680 1120h2v2h-2zM870 1120h2v2h-2zM992 1120h2v2h-2zM764 1044h2v2h-2zM774 1044h4v2h-4zM1122 1044h4v2h-4zM752 1060h2v2h-2zM802 1060h2v2h-2zM1036 1060h46v2h-46zM254 1132h2v2h-2zM260 1132h6v2h-6zM438 1132h2v2h-2zM618 1132h4v2h-4zM878 1132h2v2h-2zM986 1132h2v2h-2zM228 1106h2v2h-2zM348 1106h4v2h-4zM420 1106h2v2h-2zM696 1106h2v2h-2zM860 1106h2v2h-2zM998 1106h2v2h-2zM496 1182h4v2h-4zM596 1182h2v2h-2zM196 1096h4v2h-4zM368 1096h4v2h-4zM414 1096h2v2h-2zM706 1096h4v2h-4zM844 1096h6v2h-6zM1002 1096h2v2h-2zM396 1086h8v2h-8zM408 1086h2v2h-2zM726 1086h4v2h-4zM824 1086h2v2h-2zM1006 1086h2v2h-2zM760 1048h2v2h-2zM782 1048h4v2h-4zM1114 1048h4v2h-4zM372 1094h4v2h-4zM412 1094h2v2h-2zM710 1094h4v2h-4zM840 1094h4v2h-4zM1002 1094h2v2h-2zM232 1110h2v2h-2zM338 1110h6v2h-6zM422 1110h2v2h-2zM690 1110h4v2h-4zM862 1110h2v2h-2zM996 1110h2v2h-2zM454 1148h2v2h-2zM610 1148h2v2h-2zM898 1148h8v2h-8zM980 1148h2v2h-2zM748 1064h2v2h-2zM804 1064h2v2h-2zM1032 1064h2v2h-2zM256 1134h4v2h-4zM440 1134h2v2h-2zM616 1134h2v2h-2zM880 1134h2v2h-2zM986 1134h2v2h-2zM532 1198h2v2h-2zM588 1198h2v2h-2zM388 1088h8v2h-8zM408 1088h2v2h-2zM722 1088h4v2h-4zM826 1088h4v2h-4zM1006 1088h2v2h-2zM504 1186h6v2h-6zM594 1186h2v2h-2zM546 1208h4v2h-4zM572 1208h6v2h-6zM766 1040h4v2h-4zM1132 1040h10v2h-10zM534 1200h4v2h-4zM588 1200h2v2h-2zM200 1098h8v2h-8zM364 1098h4v2h-4zM416 1098h2v2h-2zM704 1098h2v2h-2zM850 1098h4v2h-4zM1000 1098h2v2h-2zM460 1154h2v2h-2zM608 1154h2v2h-2zM920 1154h4v2h-4zM976 1154h2v2h-2zM216 1102h8v2h-8zM356 1102h4v2h-4zM418 1102h2v2h-2zM700 1102h2v2h-2zM858 1102h2v2h-2zM1000 1102h2v2h-2zM208 1100h8v2h-8zM360 1100h4v2h-4zM416 1100h2v2h-2zM702 1100h2v2h-2zM854 1100h4v2h-4zM1000 1100h2v2h-2zM738 1080h2v2h-2zM818 1080h2v2h-2zM1012 1080h4v2h-4zM252 1130h2v2h-2zM266 1130h6v2h-6zM436 1130h2v2h-2zM622 1130h4v2h-4zM876 1130h2v2h-2zM988 1130h2v2h-2zM758 1052h2v2h-2zM790 1052h4v2h-4zM1106 1052h4v2h-4zM540 1204h4v2h-4zM584 1204h4v2h-4zM230 1108h2v2h-2zM344 1108h4v2h-4zM422 1108h2v2h-2zM694 1108h2v2h-2zM862 1108h2v2h-2zM996 1108h2v2h-2zM466 1160h2v2h-2zM604 1160h2v2h-2zM934 1160h6v2h-6zM958 1160h8v2h-8zM510 1188h4v2h-4zM592 1188h2v2h-2zM444 1138h2v2h-2zM614 1138h2v2h-2zM882 1138h2v2h-2zM984 1138h2v2h-2zM462 1156h2v2h-2zM606 1156h2v2h-2zM924 1156h6v2h-6zM974 1156h4v2h-4zM464 1158h2v2h-2zM606 1158h2v2h-2zM930 1158h4v2h-4zM966 1158h8v2h-8zM528 1196h4v2h-4zM590 1196h2v2h-2zM244 1122h2v2h-2zM292 1122h10v2h-10zM430 1122h2v2h-2zM638 1122h4v2h-4zM662 1122h10v2h-10zM678 1122h2v2h-2zM872 1122h2v2h-2zM990 1122h2v2h-2zM476 1168h4v2h-4zM602 1168h2v2h-2zM1152 1036h6v2h-6zM458 1152h2v2h-2zM608 1152h2v2h-2zM914 1152h6v2h-6zM978 1152h2v2h-2zM404 1084h4v2h-4zM730 1084h4v2h-4zM822 1084h2v2h-2zM1008 1084h2v2h-2zM552 1212h4v2h-4zM560 1212h6v2h-6zM750 1062h2v2h-2zM804 1062h2v2h-2zM1034 1062h2v2h-2zM488 1176h2v2h-2zM598 1176h2v2h-2zM450 1144h2v2h-2zM612 1144h2v2h-2zM886 1144h4v2h-4zM982 1144h2v2h-2zM754 1058h2v2h-2zM800 1058h2v2h-2zM1082 1058h16v2h-16zM764 1042h2v2h-2zM770 1042h4v2h-4zM1126 1042h6v2h-6zM490 1178h2v2h-2zM598 1178h2v2h-2zM738 1078h2v2h-2zM818 1078h2v2h-2zM1016 1078h2v2h-2zM224 1104h4v2h-4zM352 1104h4v2h-4zM420 1104h2v2h-2zM698 1104h2v2h-2zM858 1104h2v2h-2zM998 1104h2v2h-2zM758 1050h2v2h-2zM786 1050h4v2h-4zM1110 1050h4v2h-4zM472 1164h2v2h-2zM604 1164h2v2h-2zM944 1164h6v2h-6zM538 1202h2v2h-2zM586 1202h2v2h-2zM524 1194h4v2h-4zM590 1194h2v2h-2zM238 1116h2v2h-2zM320 1116h6v2h-6zM426 1116h2v2h-2zM684 1116h2v2h-2zM866 1116h2v2h-2zM994 1116h2v2h-2zM754 1056h2v2h-2zM798 1056h2v2h-2zM1098 1056h4v2h-4zM452 1146h2v2h-2zM610 1146h2v2h-2zM890 1146h8v2h-8zM980 1146h2v2h-2zM744 1072h2v2h-2zM812 1072h2v2h-2zM1022 1072h2v2h-2zM474 1166h2v2h-2zM602 1166h2v2h-2zM514 1190h6v2h-6zM592 1190h2v2h-2zM442 1136h2v2h-2zM616 1136h2v2h-2zM880 1136h2v2h-2zM984 1136h2v2h-2zM236 1114h2v2h-2zM326 1114h6v2h-6zM426 1114h2v2h-2zM686 1114h2v2h-2zM866 1114h2v2h-2zM994 1114h2v2h-2zM482 1172h2v2h-2zM600 1172h2v2h-2zM544 1206h2v2h-2zM578 1206h6v2h-6zM250 1128h2v2h-2zM272 1128h6v2h-6zM434 1128h2v2h-2zM626 1128h4v2h-4zM876 1128h2v2h-2zM988 1128h2v2h-2zM480 1170h2v2h-2zM600 1170h2v2h-2zM380 1090h8v2h-8zM410 1090h2v2h-2zM718 1090h4v2h-4zM830 1090h4v2h-4zM1004 1090h2v2h-2zM748 1066h2v2h-2zM806 1066h2v2h-2zM1028 1066h4v2h-4zM376 1092h4v2h-4zM412 1092h2v2h-2zM714 1092h4v2h-4zM834 1092h6v2h-6zM1004 1092h2v2h-2zM756 1054h2v2h-2zM794 1054h4v2h-4zM1102 1054h4v2h-4zM448 1142h2v2h-2zM612 1142h2v2h-2zM884 1142h2v2h-2zM982 1142h2v2h-2zM550 1210h2v2h-2zM566 1210h6v2h-6zM1142 1038h10v2h-10zM762 1046h2v2h-2zM778 1046h4v2h-4zM1118 1046h4v2h-4zM746 1068h2v2h-2zM808 1068h2v2h-2zM1026 1068h2v2h-2zM500 1184h4v2h-4zM594 1184h2v2h-2zM520 1192h4v2h-4zM592 1192h2v2h-2zM446 1140h2v2h-2zM614 1140h2v2h-2zM884 1140h2v2h-2zM982 1140h2v2h-2zM492 1180h4v2h-4zM596 1180h2v2h-2zM484 1174h4v2h-4zM598 1174h2v2h-2zM744 1070h2v2h-2zM810 1070h2v2h-2zM1024 1070h2v2h-2zM556 1214h4v2h-4zM742 1074h2v2h-2zM814 1074h2v2h-2zM1020 1074h2v2h-2z" fill="#26a9e0" shape-rendering="crispEdges"/>
<path d="M186 10h2v20h-2zM186 10h10v2h-10zM186 28h10v2h-10zM212 8h16v2h-16zM210 16h20v2h-20zM214 18h2v6h-2zM212 24h2v2h-2zM210 26h2v2h-2zM208 28h4v2h-4zM222 18h2v10h-2zM224 28h6v2h-6zM230 24h2v6h-2zM260 8h16v2h-16zM258 16h20v2h-20zM262 18h2v6h-2zM260 24h2v2h-2zM258 26h2v2h-2zM256 28h4v2h-4zM270 18h2v10h-2zM272 28h6v2h-6zM278 24h2v6h-2zM238 8h2v2h-2zM240 10h2v2h-2zM248 8h2v2h-2zM246 10h2v2h-2zM234 12h20v2h-20zM236 16h18v2h-18zM234 20h20v2h-20zM234 24h20v2h-20zM244 14h2v10h-2zM240 26h8v2h-8zM234 28h6v2h-6zM248 28h6v2h-6zM198 8h2v4h-2zM198 12h8v2h-8zM206 12h2v4h-2zM200 16h2v6h-2z" fill="#121212" shape-rendering="crispEdges"/>
<path d="M189 15 L196 27 M195 15 L189 26 M200 21 L197 29 M202.5 18 L207 29" fill="none" stroke="#121212" stroke-width="1.9"/>
<path d="M292 10 H301 L299.5 11.5 Q296.5 14 296.5 20.5 Q296.5 27 299.5 30 L301 31.5 H292 Z" fill="#ff7a00"/>
<path d="M364 10 H355 L356.5 11.5 Q359.5 14 359.5 20.5 Q359.5 27 356.5 30 L355 31.5 H364 Z" fill="#ff7a00"/>
<path d="M307 8.8 H323.5 M307.3 8.5 V30 M323 8.5 V30 M307 16.8 H323.5 M307 27 H323.5" fill="none" stroke="#ff7d10" stroke-width="1.5"/>
<path d="M333 8 L329.5 13.5 H333 L328.5 19.5 L336.5 18.2 M329 26 L337 23.5 M336 15 H344 M330 20.8 H344 M343.5 12.7 H350.5 M343.5 18.8 H350.5 M342 8 Q342 21 351 29.5 M347.5 8 L349.5 10.5 M338 28 L347 22.5 M349 25 L351 22" fill="none" stroke="#ff7d10" stroke-width="1.5"/>
<circle cx="385.5" cy="23" r="8.8" fill="none" stroke="#ff8000" stroke-width="1.6"/>
<rect x="377" y="22" width="17" height="2" fill="#ff7a00"/>
<rect x="385" y="15" width="1.2" height="16" fill="#ffb060"/>
<path d="M418 2h4v2h-4zM416 4h2v2h-2zM422 4h2v2h-2zM414 6h2v2h-2zM424 6h2v2h-2zM412 8h2v2h-2zM426 8h2v2h-2zM410 10h2v2h-2zM428 10h2v2h-2zM416 12h2v12h-2zM416 22h8v2h-8z" fill="#c5d3d8" shape-rendering="crispEdges"/>
<path d="M410 14h6v2h-6zM424 14h8v2h-8zM424 14h2v12h-2zM418 24h8v2h-8z" fill="#000" shape-rendering="crispEdges"/>
<path d="M418 4h4v2h-4zM416 6h8v2h-8zM414 8h12v2h-12zM412 10h16v2h-16zM418 12h4v10h-4z" fill="#ff0000" shape-rendering="crispEdges"/>
<text x="441" y="26.5" font-size="24" fill="#27314b" text-anchor="start" font-weight="normal">VR(26,70,250)</text>
<text x="185" y="782" font-size="24" fill="#111" text-anchor="start" font-weight="normal">MACD(26,12,9)</text>
<text x="366" y="782" font-size="24" fill="#3a8ef5" text-anchor="start" font-weight="normal">DIFF:-0.0002</text>
<text x="524" y="782" font-size="24" fill="#4cc38a" text-anchor="start" font-weight="normal">DEA:-0.0012</text>
<text x="680" y="782" font-size="24" fill="#45b0ea" text-anchor="start" font-weight="normal">MACD:0.0019</text>
<text x="185" y="1019" font-size="24" fill="#111" text-anchor="start" font-weight="normal">RSI(14,14,14)</text>
<text x="342" y="1019" font-size="24" fill="#5a9ef0" text-anchor="start" font-weight="normal">RSI1:55.1570</text>
<text x="508" y="1019" font-size="24" fill="#52c48a" text-anchor="start" font-weight="normal">RSI2:55.1570</text>
<text x="672" y="1019" font-size="24" fill="#4ab8ea" text-anchor="start" font-weight="normal">RSI3:55.1570</text>
<text x="530" y="1242" font-size="24" fill="#27314b" text-anchor="start" font-weight="normal" stroke="#27314b" stroke-width="0.7">2025/11</text>
<text x="1130" y="1242" font-size="24" fill="#27314b" text-anchor="start" font-weight="normal" stroke="#27314b" stroke-width="0.7">2025/12</text>
<rect x="1117" y="3" width="26" height="26" fill="#fff" stroke="#1a73c9" stroke-width="2"/>
<rect x="1149" y="3" width="26" height="26" fill="#fff" stroke="#1a73c9" stroke-width="2"/>
<rect x="1180" y="2" width="28" height="28" fill="#1a73c9"/>
<rect x="1213" y="3" width="26" height="26" fill="#fff" stroke="#1a73c9" stroke-width="2"/>
<rect x="1128" y="6" width="4" height="5" fill="#1a73c9"/>
<rect x="1128" y="20" width="4" height="6" fill="#1a73c9"/>
<rect x="1128" y="14" width="4" height="4" fill="#1a73c9"/>
<rect x="1120" y="14" width="6" height="4" fill="#1a73c9"/>
<rect x="1134" y="14" width="6" height="4" fill="#1a73c9"/>
<path d="M1154 6h2v20h-2zM1152 22h20v2h-20zM1152 8h6v2h-6zM1168 20h2v6h-2zM1160 8h2v12h-2z" fill="#1a73c9"/>
<path d="M1166 8h2v10h-2zM1164 10h2v6h-2zM1162 12h2v2h-2z" fill="#2b7dcc" shape-rendering="crispEdges"/>
<path d="M1186 6h2v20h-2zM1184 22h20v2h-20zM1184 8h6v2h-6zM1200 20h2v6h-2z" fill="#fff"/>
<path d="M1192 8h2v13h-2zM1194 10h2v9h-2zM1196 12h2v5h-2zM1198 13h2v3h-2zM1200 14h2v1h-2z" fill="#d9e8f6" shape-rendering="crispEdges"/>
<rect x="1217" y="7" width="7" height="18" fill="none" stroke="#1a73c9" stroke-width="2"/>
<rect x="1220" y="14" width="10" height="4" fill="#1a73c9"/>
<path d="M1228 10h2v12h-2zM1230 12h2v8h-2zM1232 14h2v4h-2zM1234 15h2v2h-2z" fill="#1a73c9" shape-rendering="crispEdges"/>
<path d="M54 998h8v2h-8zM54 1012h8v2h-8zM50 1002h2v8h-2zM64 1002h2v8h-2zM52 1000h2v2h-2zM62 1000h2v2h-2zM52 1010h2v2h-2zM62 1010h2v2h-2z" fill="#000"/>
<path d="M56 1002h4v2h2v4h-2v2h-4v-2h-2v-4h2z" fill="#f00"/>
<path d="M56 992h2v4h-2zM56 1016h2v4h-2zM44 1004h4v2h-4zM68 1004h4v2h-4zM46 994h2v2h-2zM48 996h2v2h-2zM68 994h2v2h-2zM66 996h2v2h-2zM48 1014h2v2h-2zM46 1016h2v2h-2zM66 1014h2v2h-2zM68 1016h2v2h-2z" fill="#f00"/>
<rect x="1378" y="254" width="2" height="122" fill="#e9edf1"/>
<rect x="40" y="1216" width="140" height="40" fill="#fff" stroke="#cbd3dc" stroke-width="2"/>
<rect x="40" y="1256" width="1342" height="2" fill="#cbd3dc"/>
<rect x="200" y="1256" width="114" height="30" fill="#ff6600"/>
<rect x="0" y="1286" width="40" height="2" fill="#d3dae3"/>
<rect x="118" y="1256" width="2" height="32" fill="#cbd3dc"/>
<rect x="198" y="1256" width="2" height="32" fill="#cbd3dc"/>
<rect x="314" y="1256" width="2" height="32" fill="#cbd3dc"/>
<rect x="466" y="1256" width="2" height="32" fill="#cbd3dc"/>
<rect x="582" y="1256" width="2" height="32" fill="#cbd3dc"/>
<rect x="698" y="1256" width="2" height="32" fill="#cbd3dc"/>
<rect x="802" y="1256" width="2" height="32" fill="#cbd3dc"/>
<rect x="906" y="1256" width="2" height="32" fill="#cbd3dc"/>
<rect x="1046" y="1256" width="2" height="32" fill="#cbd3dc"/>
<rect x="1102" y="1256" width="2" height="32" fill="#cbd3dc"/>
<path d="M334 1268h2v2h-2zM340 1268h2v2h-2zM348 1268h4v2h-4zM358 1268h2v2h-2zM364 1268h2v2h-2zM370 1268h2v2h-2zM376 1268h2v2h-2zM382 1268h2v2h-2zM388 1268h2v2h-2zM394 1268h2v2h-2zM400 1268h2v2h-2zM406 1268h4v2h-4zM412 1268h2v2h-2zM430 1268h2v2h-2zM436 1268h2v2h-2zM442 1268h2v2h-2zM448 1268h2v2h-2zM334 1270h6v2h-6zM346 1270h2v2h-2zM350 1270h2v2h-2zM358 1270h6v2h-6zM370 1270h2v2h-2zM376 1270h2v2h-2zM382 1270h6v2h-6zM394 1270h2v2h-2zM400 1270h2v2h-2zM406 1270h4v2h-4zM412 1270h2v2h-2zM430 1270h2v2h-2zM436 1270h2v2h-2zM442 1270h2v2h-2zM448 1270h2v2h-2zM332 1264h8v2h-8zM348 1264h2v2h-2zM356 1264h8v2h-8zM368 1264h4v2h-4zM376 1264h12v2h-12zM392 1264h8v2h-8zM404 1264h4v2h-4zM410 1264h6v2h-6zM428 1264h4v2h-4zM436 1264h12v2h-12zM332 1278h8v2h-8zM344 1278h4v2h-4zM352 1278h10v2h-10zM364 1278h4v2h-4zM372 1278h4v2h-4zM380 1278h6v2h-6zM392 1278h8v2h-8zM404 1278h6v2h-6zM412 1278h2v2h-2zM432 1278h4v2h-4zM440 1278h8v2h-8zM334 1272h2v2h-2zM340 1272h2v2h-2zM346 1272h2v2h-2zM350 1272h2v2h-2zM358 1272h2v2h-2zM362 1272h2v2h-2zM370 1272h2v2h-2zM376 1272h2v2h-2zM382 1272h2v2h-2zM394 1272h2v2h-2zM400 1272h2v2h-2zM406 1272h2v2h-2zM410 1272h4v2h-4zM430 1272h2v2h-2zM436 1272h2v2h-2zM442 1272h2v2h-2zM448 1272h2v2h-2zM334 1266h2v2h-2zM340 1266h2v2h-2zM348 1266h2v2h-2zM358 1266h2v2h-2zM364 1266h2v2h-2zM370 1266h2v2h-2zM376 1266h2v2h-2zM382 1266h2v2h-2zM388 1266h2v2h-2zM394 1266h2v2h-2zM400 1266h2v2h-2zM406 1266h2v2h-2zM412 1266h2v2h-2zM430 1266h2v2h-2zM436 1266h2v2h-2zM442 1266h2v2h-2zM448 1266h2v2h-2zM416 1282h12v2h-12zM334 1276h2v2h-2zM340 1276h2v2h-2zM346 1276h2v2h-2zM352 1276h2v2h-2zM358 1276h2v2h-2zM364 1276h2v2h-2zM370 1276h2v2h-2zM376 1276h2v2h-2zM382 1276h2v2h-2zM394 1276h2v2h-2zM400 1276h2v2h-2zM406 1276h2v2h-2zM412 1276h2v2h-2zM430 1276h2v2h-2zM436 1276h2v2h-2zM442 1276h2v2h-2zM448 1276h2v2h-2zM334 1274h2v2h-2zM340 1274h2v2h-2zM346 1274h8v2h-8zM358 1274h2v2h-2zM364 1274h2v2h-2zM370 1274h2v2h-2zM376 1274h2v2h-2zM382 1274h2v2h-2zM394 1274h2v2h-2zM400 1274h2v2h-2zM406 1274h2v2h-2zM410 1274h4v2h-4zM430 1274h2v2h-2zM436 1274h2v2h-2zM442 1274h2v2h-2zM448 1274h2v2h-2z" fill="#1c2535" shape-rendering="crispEdges"/>
<path d="M484 1278h8v2h-8zM496 1278h10v2h-10zM508 1278h4v2h-4zM516 1278h12v2h-12zM548 1278h4v2h-4zM556 1278h8v2h-8zM486 1276h2v2h-2zM492 1276h2v2h-2zM500 1276h2v2h-2zM510 1276h2v2h-2zM516 1276h2v2h-2zM520 1276h2v2h-2zM528 1276h2v2h-2zM546 1276h2v2h-2zM552 1276h2v2h-2zM558 1276h2v2h-2zM564 1276h2v2h-2zM484 1264h8v2h-8zM496 1264h10v2h-10zM512 1264h2v2h-2zM522 1264h8v2h-8zM544 1264h4v2h-4zM552 1264h12v2h-12zM486 1266h2v2h-2zM492 1266h2v2h-2zM500 1266h2v2h-2zM512 1266h2v2h-2zM520 1266h2v2h-2zM528 1266h2v2h-2zM546 1266h2v2h-2zM552 1266h2v2h-2zM558 1266h2v2h-2zM564 1266h2v2h-2zM486 1274h2v2h-2zM492 1274h2v2h-2zM500 1274h2v2h-2zM510 1274h8v2h-8zM528 1274h2v2h-2zM546 1274h2v2h-2zM552 1274h2v2h-2zM558 1274h2v2h-2zM564 1274h2v2h-2zM532 1282h12v2h-12zM486 1268h2v2h-2zM492 1268h2v2h-2zM500 1268h2v2h-2zM512 1268h4v2h-4zM520 1268h2v2h-2zM546 1268h2v2h-2zM552 1268h2v2h-2zM558 1268h2v2h-2zM564 1268h2v2h-2zM486 1270h6v2h-6zM500 1270h2v2h-2zM510 1270h2v2h-2zM514 1270h2v2h-2zM522 1270h4v2h-4zM546 1270h2v2h-2zM552 1270h2v2h-2zM558 1270h2v2h-2zM564 1270h2v2h-2zM486 1272h2v2h-2zM492 1272h2v2h-2zM500 1272h2v2h-2zM510 1272h2v2h-2zM514 1272h2v2h-2zM526 1272h2v2h-2zM546 1272h2v2h-2zM552 1272h2v2h-2zM558 1272h2v2h-2zM564 1272h2v2h-2z" fill="#1c2535" shape-rendering="crispEdges"/>
<path d="M600 1278h8v2h-8zM614 1278h6v2h-6zM624 1278h24v2h-24zM664 1278h4v2h-4zM672 1278h8v2h-8zM602 1270h6v2h-6zM612 1270h2v2h-2zM620 1270h2v2h-2zM626 1270h2v2h-2zM638 1270h2v2h-2zM662 1270h2v2h-2zM668 1270h2v2h-2zM674 1270h2v2h-2zM680 1270h2v2h-2zM600 1264h8v2h-8zM614 1264h6v2h-6zM624 1264h6v2h-6zM636 1264h6v2h-6zM660 1264h4v2h-4zM668 1264h12v2h-12zM602 1266h2v2h-2zM608 1266h2v2h-2zM612 1266h2v2h-2zM620 1266h2v2h-2zM626 1266h2v2h-2zM638 1266h2v2h-2zM662 1266h2v2h-2zM668 1266h2v2h-2zM674 1266h2v2h-2zM680 1266h2v2h-2zM602 1276h2v2h-2zM608 1276h2v2h-2zM612 1276h2v2h-2zM620 1276h2v2h-2zM626 1276h2v2h-2zM634 1276h2v2h-2zM638 1276h2v2h-2zM646 1276h2v2h-2zM662 1276h2v2h-2zM668 1276h2v2h-2zM674 1276h2v2h-2zM680 1276h2v2h-2zM602 1274h2v2h-2zM608 1274h2v2h-2zM612 1274h2v2h-2zM620 1274h2v2h-2zM626 1274h2v2h-2zM638 1274h2v2h-2zM662 1274h2v2h-2zM668 1274h2v2h-2zM674 1274h2v2h-2zM680 1274h2v2h-2zM648 1282h12v2h-12zM602 1268h2v2h-2zM608 1268h2v2h-2zM612 1268h2v2h-2zM620 1268h2v2h-2zM626 1268h2v2h-2zM638 1268h2v2h-2zM662 1268h2v2h-2zM668 1268h2v2h-2zM674 1268h2v2h-2zM680 1268h2v2h-2zM602 1272h2v2h-2zM608 1272h2v2h-2zM612 1272h2v2h-2zM620 1272h2v2h-2zM626 1272h2v2h-2zM638 1272h2v2h-2zM662 1272h2v2h-2zM668 1272h2v2h-2zM674 1272h2v2h-2zM680 1272h2v2h-2z" fill="#1c2535" shape-rendering="crispEdges"/>
<path d="M718 1278h6v2h-6zM730 1278h6v2h-6zM740 1278h10v2h-10zM768 1278h4v2h-4zM776 1278h8v2h-8zM718 1264h8v2h-8zM730 1264h8v2h-8zM740 1264h10v2h-10zM764 1264h4v2h-4zM772 1264h12v2h-12zM716 1266h2v2h-2zM724 1266h2v2h-2zM728 1266h2v2h-2zM736 1266h2v2h-2zM744 1266h2v2h-2zM766 1266h2v2h-2zM772 1266h2v2h-2zM778 1266h2v2h-2zM784 1266h2v2h-2zM716 1276h2v2h-2zM724 1276h2v2h-2zM728 1276h2v2h-2zM736 1276h2v2h-2zM744 1276h2v2h-2zM766 1276h2v2h-2zM772 1276h2v2h-2zM778 1276h2v2h-2zM784 1276h2v2h-2zM716 1270h2v2h-2zM728 1270h2v2h-2zM744 1270h2v2h-2zM766 1270h2v2h-2zM772 1270h2v2h-2zM778 1270h2v2h-2zM784 1270h2v2h-2zM716 1268h2v2h-2zM728 1268h2v2h-2zM744 1268h2v2h-2zM766 1268h2v2h-2zM772 1268h2v2h-2zM778 1268h2v2h-2zM784 1268h2v2h-2zM752 1282h12v2h-12zM716 1274h2v2h-2zM728 1274h2v2h-2zM744 1274h2v2h-2zM766 1274h2v2h-2zM772 1274h2v2h-2zM778 1274h2v2h-2zM784 1274h2v2h-2zM716 1272h2v2h-2zM728 1272h2v2h-2zM744 1272h2v2h-2zM766 1272h2v2h-2zM772 1272h2v2h-2zM778 1272h2v2h-2zM784 1272h2v2h-2z" fill="#1c2535" shape-rendering="crispEdges"/>
<path d="M820 1278h8v2h-8zM830 1278h4v2h-4zM836 1278h2v2h-2zM840 1278h2v2h-2zM844 1278h10v2h-10zM872 1278h4v2h-4zM880 1278h8v2h-8zM822 1276h2v2h-2zM828 1276h2v2h-2zM832 1276h2v2h-2zM836 1276h2v2h-2zM840 1276h2v2h-2zM848 1276h2v2h-2zM870 1276h2v2h-2zM876 1276h2v2h-2zM882 1276h2v2h-2zM888 1276h2v2h-2zM822 1270h2v2h-2zM828 1270h2v2h-2zM832 1270h4v2h-4zM838 1270h4v2h-4zM848 1270h2v2h-2zM870 1270h2v2h-2zM876 1270h2v2h-2zM882 1270h2v2h-2zM888 1270h2v2h-2zM820 1264h8v2h-8zM830 1264h6v2h-6zM838 1264h4v2h-4zM844 1264h10v2h-10zM868 1264h4v2h-4zM876 1264h12v2h-12zM822 1266h2v2h-2zM828 1266h2v2h-2zM832 1266h4v2h-4zM838 1266h4v2h-4zM848 1266h2v2h-2zM870 1266h2v2h-2zM876 1266h2v2h-2zM882 1266h2v2h-2zM888 1266h2v2h-2zM822 1268h2v2h-2zM828 1268h2v2h-2zM832 1268h4v2h-4zM838 1268h4v2h-4zM848 1268h2v2h-2zM870 1268h2v2h-2zM876 1268h2v2h-2zM882 1268h2v2h-2zM888 1268h2v2h-2zM856 1282h12v2h-12zM822 1274h2v2h-2zM828 1274h2v2h-2zM832 1274h2v2h-2zM836 1274h2v2h-2zM840 1274h2v2h-2zM848 1274h2v2h-2zM870 1274h2v2h-2zM876 1274h2v2h-2zM882 1274h2v2h-2zM888 1274h2v2h-2zM822 1272h2v2h-2zM828 1272h2v2h-2zM832 1272h2v2h-2zM836 1272h2v2h-2zM840 1272h2v2h-2zM848 1272h2v2h-2zM870 1272h2v2h-2zM876 1272h2v2h-2zM882 1272h2v2h-2zM888 1272h2v2h-2z" fill="#1c2535" shape-rendering="crispEdges"/>
<path d="M928 1270h2v2h-2zM938 1270h4v2h-4zM944 1270h2v2h-2zM950 1270h4v2h-4zM964 1270h2v2h-2zM974 1270h2v2h-2zM980 1270h2v2h-2zM986 1270h6v2h-6zM1010 1270h2v2h-2zM1016 1270h2v2h-2zM1022 1270h2v2h-2zM1028 1270h2v2h-2zM924 1278h10v2h-10zM936 1278h6v2h-6zM944 1278h2v2h-2zM948 1278h8v2h-8zM960 1278h10v2h-10zM972 1278h8v2h-8zM984 1278h10v2h-10zM1012 1278h4v2h-4zM1020 1278h8v2h-8zM928 1274h2v2h-2zM938 1274h2v2h-2zM942 1274h4v2h-4zM956 1274h2v2h-2zM964 1274h2v2h-2zM974 1274h2v2h-2zM980 1274h2v2h-2zM986 1274h2v2h-2zM1010 1274h2v2h-2zM1016 1274h2v2h-2zM1022 1274h2v2h-2zM1028 1274h2v2h-2zM928 1272h2v2h-2zM938 1272h2v2h-2zM942 1272h4v2h-4zM954 1272h2v2h-2zM964 1272h2v2h-2zM974 1272h2v2h-2zM980 1272h2v2h-2zM986 1272h2v2h-2zM990 1272h2v2h-2zM1010 1272h2v2h-2zM1016 1272h2v2h-2zM1022 1272h2v2h-2zM1028 1272h2v2h-2zM928 1266h2v2h-2zM938 1266h2v2h-2zM944 1266h2v2h-2zM948 1266h2v2h-2zM956 1266h2v2h-2zM964 1266h2v2h-2zM974 1266h2v2h-2zM980 1266h2v2h-2zM986 1266h2v2h-2zM992 1266h2v2h-2zM1010 1266h2v2h-2zM1016 1266h2v2h-2zM1022 1266h2v2h-2zM1028 1266h2v2h-2zM924 1264h10v2h-10zM936 1264h4v2h-4zM942 1264h6v2h-6zM950 1264h8v2h-8zM960 1264h10v2h-10zM972 1264h8v2h-8zM984 1264h10v2h-10zM1008 1264h4v2h-4zM1016 1264h12v2h-12zM996 1282h12v2h-12zM928 1276h2v2h-2zM938 1276h2v2h-2zM944 1276h2v2h-2zM948 1276h2v2h-2zM956 1276h2v2h-2zM964 1276h2v2h-2zM974 1276h2v2h-2zM980 1276h2v2h-2zM986 1276h2v2h-2zM992 1276h2v2h-2zM1010 1276h2v2h-2zM1016 1276h2v2h-2zM1022 1276h2v2h-2zM1028 1276h2v2h-2zM928 1268h2v2h-2zM938 1268h4v2h-4zM944 1268h2v2h-2zM948 1268h2v2h-2zM964 1268h2v2h-2zM974 1268h2v2h-2zM980 1268h2v2h-2zM986 1268h2v2h-2zM990 1268h2v2h-2zM1010 1268h2v2h-2zM1016 1268h2v2h-2zM1022 1268h2v2h-2zM1028 1268h2v2h-2z" fill="#1c2535" shape-rendering="crispEdges"/>
<path d="M1070 1274h2v2h-2zM1082 1274h2v2h-2zM1072 1270h2v2h-2zM1084 1270h2v2h-2zM1068 1266h2v2h-2zM1080 1266h2v2h-2zM1068 1276h2v2h-2zM1080 1276h2v2h-2zM1066 1278h2v2h-2zM1078 1278h2v2h-2zM1070 1268h2v2h-2zM1082 1268h2v2h-2zM1066 1264h2v2h-2zM1078 1264h2v2h-2zM1072 1272h2v2h-2zM1084 1272h2v2h-2z" fill="#1c2535" shape-rendering="crispEdges"/>
<path d="M218 1268h2v2h-2zM224 1268h2v2h-2zM232 1268h2v2h-2zM242 1268h2v2h-2zM248 1268h2v2h-2zM220 1274h4v2h-4zM232 1274h2v2h-2zM242 1274h2v2h-2zM218 1272h2v2h-2zM222 1272h2v2h-2zM232 1272h2v2h-2zM242 1272h2v2h-2zM216 1264h4v2h-4zM224 1264h14v2h-14zM240 1264h8v2h-8zM218 1266h2v2h-2zM224 1266h2v2h-2zM232 1266h2v2h-2zM242 1266h2v2h-2zM248 1266h2v2h-2zM218 1270h2v2h-2zM222 1270h2v2h-2zM232 1270h2v2h-2zM242 1270h6v2h-6zM220 1278h2v2h-2zM228 1278h10v2h-10zM240 1278h6v2h-6zM220 1276h2v2h-2zM232 1276h2v2h-2zM242 1276h2v2h-2z" fill="#fff" shape-rendering="crispEdges"/>
<path d="M60 1260h2v2h-2zM66 1260h2v2h-2zM76 1260h2v2h-2zM60 1262h2v2h-2zM66 1262h2v2h-2zM72 1262h4v2h-4zM60 1264h2v2h-2zM66 1264h6v2h-6zM56 1266h8v2h-8zM66 1266h2v2h-2zM76 1266h2v2h-2zM60 1268h2v2h-2zM68 1268h10v2h-10zM60 1270h2v2h-2zM60 1272h4v2h-4zM66 1272h12v2h-12zM56 1274h6v2h-6zM66 1274h2v2h-2zM76 1274h2v2h-2zM60 1276h2v2h-2zM66 1276h12v2h-12zM60 1278h2v2h-2zM66 1278h2v2h-2zM76 1278h2v2h-2zM60 1280h2v2h-2zM66 1280h12v2h-12zM58 1282h4v2h-4zM66 1282h2v2h-2zM76 1282h2v2h-2z" fill="#1c2535" shape-rendering="crispEdges"/>
<path d="M84 1260h2v2h-2zM84 1262h2v2h-2zM90 1262h10v2h-10zM84 1264h2v2h-2zM80 1266h8v2h-8zM84 1268h2v2h-2zM88 1268h14v2h-14zM82 1270h4v2h-4zM94 1270h2v2h-2zM82 1272h6v2h-6zM94 1272h2v2h-2zM80 1274h2v2h-2zM84 1274h2v2h-2zM90 1274h2v2h-2zM94 1274h2v2h-2zM98 1274h2v2h-2zM84 1276h2v2h-2zM90 1276h2v2h-2zM94 1276h2v2h-2zM100 1276h2v2h-2zM84 1278h2v2h-2zM88 1278h2v2h-2zM94 1278h2v2h-2zM100 1278h2v2h-2zM84 1280h2v2h-2zM94 1280h2v2h-2zM84 1282h2v2h-2zM92 1282h4v2h-4z" fill="#1c2535" shape-rendering="crispEdges"/>
<path d="M140 1260h2v2h-2zM148 1260h2v2h-2zM152 1260h2v2h-2zM140 1262h2v2h-2zM144 1262h14v2h-14zM140 1264h2v2h-2zM148 1264h2v2h-2zM152 1264h2v2h-2zM136 1266h8v2h-8zM146 1266h10v2h-10zM140 1268h2v2h-2zM146 1268h2v2h-2zM154 1268h2v2h-2zM138 1270h4v2h-4zM146 1270h10v2h-10zM138 1272h6v2h-6zM146 1272h2v2h-2zM154 1272h2v2h-2zM136 1274h2v2h-2zM140 1274h2v2h-2zM146 1274h10v2h-10zM140 1276h2v2h-2zM150 1276h2v2h-2zM140 1278h2v2h-2zM144 1278h14v2h-14zM140 1280h2v2h-2zM148 1280h2v2h-2zM152 1280h2v2h-2zM140 1282h2v2h-2zM144 1282h4v2h-4zM154 1282h4v2h-4z" fill="#1c2535" shape-rendering="crispEdges"/>
<path d="M164 1260h2v2h-2zM178 1260h4v2h-4zM164 1262h2v2h-2zM170 1262h8v2h-8zM164 1264h2v2h-2zM170 1264h2v2h-2zM160 1266h8v2h-8zM170 1266h2v2h-2zM164 1268h2v2h-2zM170 1268h12v2h-12zM162 1270h6v2h-6zM170 1270h2v2h-2zM174 1270h2v2h-2zM180 1270h2v2h-2zM162 1272h4v2h-4zM168 1272h4v2h-4zM174 1272h2v2h-2zM180 1272h2v2h-2zM160 1274h2v2h-2zM164 1274h2v2h-2zM170 1274h2v2h-2zM174 1274h2v2h-2zM178 1274h2v2h-2zM164 1276h2v2h-2zM170 1276h2v2h-2zM174 1276h2v2h-2zM178 1276h2v2h-2zM164 1278h2v2h-2zM170 1278h2v2h-2zM176 1278h2v2h-2zM164 1280h2v2h-2zM168 1280h2v2h-2zM174 1280h2v2h-2zM178 1280h2v2h-2zM164 1282h4v2h-4zM172 1282h2v2h-2zM180 1282h2v2h-2z" fill="#1c2535" shape-rendering="crispEdges"/>
<path d="M256 1260h2v2h-2zM262 1260h2v2h-2zM272 1260h2v2h-2zM256 1262h2v2h-2zM262 1262h2v2h-2zM268 1262h4v2h-4zM256 1264h2v2h-2zM262 1264h6v2h-6zM252 1266h8v2h-8zM262 1266h2v2h-2zM272 1266h2v2h-2zM256 1268h2v2h-2zM264 1268h10v2h-10zM256 1270h2v2h-2zM256 1272h4v2h-4zM262 1272h12v2h-12zM252 1274h6v2h-6zM262 1274h2v2h-2zM272 1274h2v2h-2zM256 1276h2v2h-2zM262 1276h12v2h-12zM256 1278h2v2h-2zM262 1278h2v2h-2zM272 1278h2v2h-2zM256 1280h2v2h-2zM262 1280h12v2h-12zM254 1282h4v2h-4zM262 1282h2v2h-2zM272 1282h2v2h-2z" fill="#fff" shape-rendering="crispEdges"/>
<path d="M280 1260h2v2h-2zM280 1262h2v2h-2zM286 1262h10v2h-10zM280 1264h2v2h-2zM276 1266h8v2h-8zM280 1268h2v2h-2zM284 1268h14v2h-14zM278 1270h4v2h-4zM290 1270h2v2h-2zM278 1272h6v2h-6zM290 1272h2v2h-2zM276 1274h2v2h-2zM280 1274h2v2h-2zM286 1274h2v2h-2zM290 1274h2v2h-2zM294 1274h2v2h-2zM280 1276h2v2h-2zM286 1276h2v2h-2zM290 1276h2v2h-2zM296 1276h2v2h-2zM280 1278h2v2h-2zM284 1278h2v2h-2zM290 1278h2v2h-2zM296 1278h2v2h-2zM280 1280h2v2h-2zM290 1280h2v2h-2zM280 1282h2v2h-2zM288 1282h4v2h-4z" fill="#fff" shape-rendering="crispEdges"/>
<path d="M70 1228h4v22h-4zM86 1228h4v22h-4zM70 1228h20v2h-20zM70 1236h20v2h-20zM70 1246h20v2h-20zM98 1226h4v4h-4zM96 1230h4v2h-4zM94 1232h4v4h-4zM98 1234h2v2h-2zM100 1232h8v2h-8zM98 1236h4v2h-4zM96 1238h4v2h-4zM94 1240h10v2h-10zM98 1244h6v2h-6zM94 1246h6v2h-6zM108 1226h4v22h-4zM112 1226h4v2h-4zM114 1228h4v4h-4zM112 1230h2v2h-2zM112 1236h6v2h-6zM104 1238h4v2h-4zM112 1240h4v2h-4zM112 1242h2v2h-2zM114 1244h4v6h-4zM112 1248h2v2h-2zM106 1246h2v2h-2zM102 1248h6v2h-6z" fill="#ff7a00" shape-rendering="crispEdges"/>
<path d="M137.5 1230 L146 1246 L129 1246 Z" fill="#ff7a00"/>
<rect x="1103" y="1286" width="279" height="2" fill="#cfd6de"/>
<rect x="815" y="1250" width="418" height="2" fill="#e6ebf0"/>
<text x="1255" y="1263.5" font-size="31" fill="#c9b3a0" style="letter-spacing:1.6px">FX678</text>
<text x="1254" y="1262.5" font-size="31" fill="#dce8f6" style="letter-spacing:1.6px">FX678</text>
</svg></body></html>
